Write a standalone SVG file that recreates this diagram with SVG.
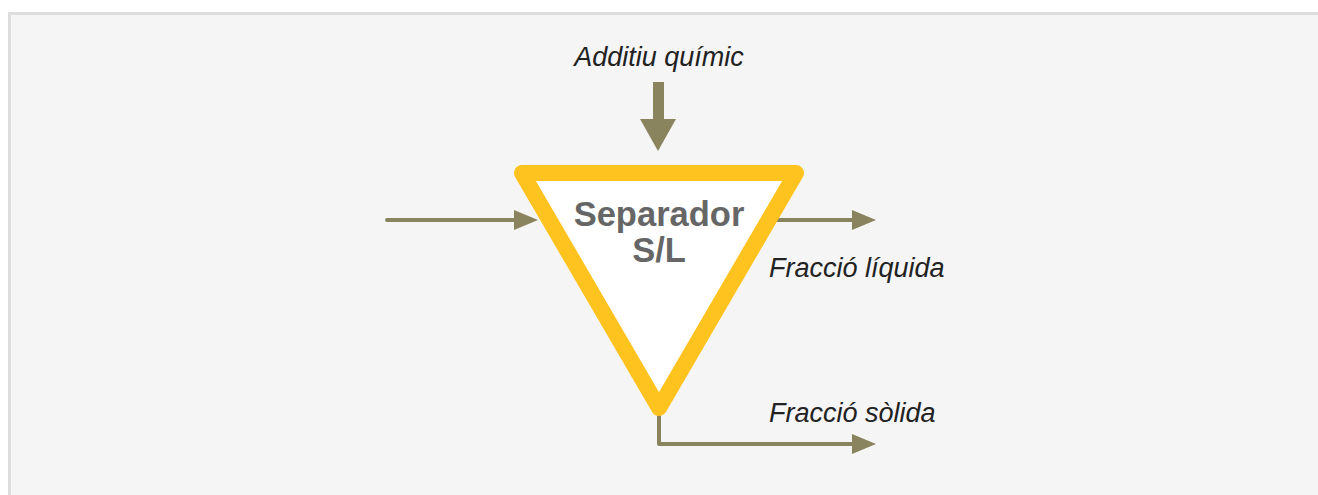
<svg xmlns="http://www.w3.org/2000/svg" width="1318" height="495" viewBox="0 0 1318 495">
  <style>
    .lbl { font-family: "Liberation Sans", Arial, sans-serif; font-style: italic; font-size: 27px; fill: #222222; }
    .title { font-family: "Liberation Sans", Arial, sans-serif; font-weight: bold; font-size: 34.5px; fill: #666666; text-anchor: middle; }
    .flow { fill: none; stroke: #8a845e; stroke-width: 4; stroke-linecap: round; stroke-linejoin: round; }
    .head { fill: #8a845e; }
  </style>
  <rect x="0" y="0" width="1318" height="495" fill="#ffffff"/>
  <rect x="9.5" y="13.5" width="1320" height="500" fill="#f5f5f5" stroke="#dddddd" stroke-width="3"/>

  <g id="connectors">
    <!-- feed in -->
    <line class="flow" x1="387" y1="220" x2="516" y2="220"/>
    <polygon class="head" points="514,210 538,220 514,230"/>
    <!-- additive -->
    <rect x="653" y="82" width="11" height="38" fill="#8a845e"/>
    <polygon class="head" points="640,119 676,119 658,151"/>
    <!-- liquid fraction -->
    <line class="flow" x1="770" y1="220" x2="854" y2="220"/>
    <polygon class="head" points="852,210 876,220 852,230"/>
    <!-- solid fraction -->
    <polyline class="flow" points="659,405 659,444 854,444"/>
    <polygon class="head" points="852,434 876,444 852,454"/>
  </g>

  <g id="separador">
    <polygon points="522,173 796,173 659,408" fill="#ffffff" stroke="#ffc31f" stroke-width="16" stroke-linejoin="round"/>
    <text class="title" x="659" y="226">Separador</text>
    <text class="title" x="659" y="262">S/L</text>
  </g>

  <g id="labels">
    <text class="lbl" x="659" y="66" text-anchor="middle">Additiu químic</text>
    <text class="lbl" x="769" y="277">Fracció líquida</text>
    <text class="lbl" x="769" y="422">Fracció sòlida</text>
  </g>
</svg>
